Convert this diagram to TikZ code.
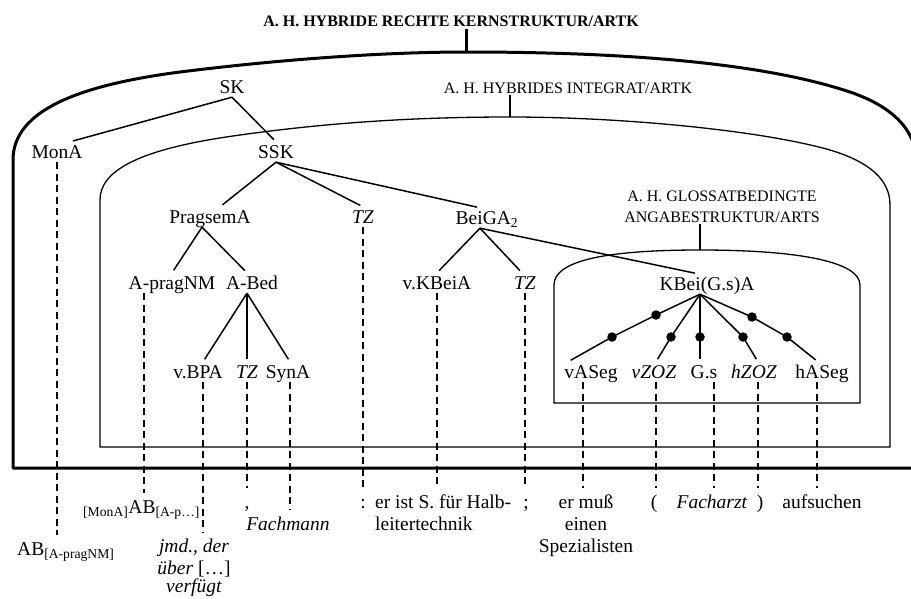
\documentclass[tikz,border=0pt]{standalone}
\usepackage{fontspec}
\setmainfont{Liberation Serif}
\usetikzlibrary{calc}
\begin{document}
\begin{tikzpicture}[x=1pt,y=-1pt,
  nd/.style={inner xsep=0pt, inner ysep=2pt, text height=14pt, text depth=2pt, font=\fontsize{19.5}{22}\selectfont},
  btm/.style={anchor=base, inner xsep=0pt, inner ysep=6pt, text height=14pt, text depth=4pt, font=\fontsize{19.5}{22}\selectfont},
  caplbl/.style={inner sep=1pt, font=\fontsize{16}{21}\selectfont},
  titlelbl/.style={inner sep=2pt, font=\fontsize{16}{19}\selectfont\bfseries},
  tedge/.style={line width=1.5pt, shorten >=3pt},
  dsh/.style={line width=1.4pt, dash pattern=on 7pt off 4.5pt},
  thickshape/.style={line width=3pt, line join=round},
  thinshape/.style={line width=1.3pt},
  blob/.style={circle, fill=black, inner sep=0pt, minimum size=9.5pt}]
\useasboundingbox (0,0) rectangle (911,598);

% ---------- enclosing shapes ----------
\coordinate (otop) at (466,52);
\draw[thickshape] (918,468) -- (13,468) -- (13,160)
  .. controls (13,110) and (80,85) .. (180,72)
  .. controls (300,57) and (400,52) .. (otop)
  .. controls (620,52) and (760,62) .. (850,92)
  .. controls (885,104) and (917,125) .. (917,165) -- cycle;

\coordinate (itop) at (510,117);
\draw[thinshape] (100,447) -- (100,200)
  .. controls (100,172) and (135,150) .. (233,136)
  .. controls (330,122) and (420,117) .. (itop)
  .. controls (620,117) and (760,130) .. (830,150)
  .. controls (870,162) and (890,180) .. (890,205) -- (890,447) -- cycle;

\coordinate (gtop) at (700,250);
\draw[thinshape] (554,403) -- (554,285)
  .. controls (554,262) and (600,250) .. (gtop)
  .. controls (800,250) and (860,262) .. (860,285) -- (860,403) -- cycle;

% ---------- shape labels ----------
\node[titlelbl] (title) at (451,21) {A. H. HYBRIDE RECHTE KERNSTRUKTUR/ARTK};
\draw[line width=3pt] (otop) -- (otop |- title.south);
\node[caplbl] (lbl2) at (568,88) {A. H. HYBRIDES INTEGRAT/ARTK};
\draw[thinshape] (itop) -- (itop |- lbl2.south);
\node[caplbl, align=center] (lbl3) at (722,207) {A. H. GLOSSATBEDINGTE\\ANGABESTRUKTUR/ARTS};
\draw[thinshape] (gtop) -- (gtop |- lbl3.south);

% ---------- tree nodes ----------
\node[nd] (SK) at (232,87) {SK};
\node[nd] (MonA) at (57,152) {MonA};
\node[nd] (SSK) at (276,152) {SSK};
\node[nd] (PragsemA) at (210,217) {PragsemA};
\node[nd] (TZa) at (363,217) {\textit{TZ}};
\node[nd] (BeiGA) at (487,218) {BeiGA\textsubscript{2}};
\node[nd] (ApragNM) at (172,283) {A-pragNM};
\node[nd] (ABed) at (252,283) {A-Bed};
\node[nd] (vKBeiA) at (437,283) {v.KBeiA};
\node[nd] (TZb) at (525,283) {\textit{TZ}};
\node[nd] (KBei) at (707,284) {KBei(G.s)A};
\node[nd] (vBPA) at (198,372) {v.BPA};
\node[nd] (TZc) at (247,372) {\textit{TZ}};
\node[nd] (SynA) at (288,372) {SynA};
\node[nd] (vASeg) at (591,372) {vASeg};
\node[nd] (vZOZ) at (654,372) {\textit{vZOZ}};
\node[nd] (Gs) at (704,372) {G.s};
\node[nd] (hZOZ) at (754,372) {\textit{hZOZ}};
\node[nd] (hASeg) at (822,372) {hASeg};

% ---------- tree edges ----------
\draw[tedge] (SK.south) -- ($(MonA.north)+(13,0)$);
\draw[tedge] (SK.south) -- (SSK.north);
\draw[tedge] (SSK.south) -- ($(PragsemA.north)+(10,0)$);
\draw[tedge] (SSK.south) -- (TZa.north);
\draw[tedge] (SSK.south) -- ($(BeiGA.north)+(-7,0)$);
\draw[tedge] ($(PragsemA.south)+(-8,0)$) -- (ApragNM.north);
\draw[tedge] ($(PragsemA.south)+(-8,0)$) -- ($(ABed.north)+(-5,0)$);
\draw[tedge] ($(BeiGA.south)+(-7,0)$) -- (vKBeiA.north);
\draw[tedge] ($(BeiGA.south)+(-7,0)$) -- ($(TZb.north)+(-3,0)$);
\draw[tedge] ($(BeiGA.south)+(-7,0)$) -- ($(KBei.north)+(-9,0)$);
\draw[tedge] ($(ABed.south)+(-5,0)$) -- ($(vBPA.north)+(5,0)$);
\draw[tedge] ($(ABed.south)+(-5,0)$) -- (TZc.north);
\draw[tedge] ($(ABed.south)+(-5,0)$) -- ($(SynA.north)+(2,0)$);

% dotted branches of KBei(G.s)A
\node[blob] (dA1) at (656,315) {};
\node[blob] (dA2) at (612,337) {};
\node[blob] (dB) at (671,337) {};
\node[blob] (dC) at (700,337) {};
\node[blob] (dD) at (743,337) {};
\node[blob] (dE1) at (752,317) {};
\node[blob] (dE2) at (787,337) {};
\coordinate (kb) at ($(KBei.south)+(-7,0)$);
\draw[tedge] (kb) -- (dA1.center) -- (dA2.center) -- ($(vASeg.north)+(-23,0)$);
\draw[tedge] (kb) -- (dB.center) -- ($(vZOZ.north)+(2,0)$);
\draw[tedge] (kb) -- (dC.center) -- ($(Gs.north)+(-4,0)$);
\draw[tedge] (kb) -- (dD.center) -- ($(hZOZ.north)+(4,0)$);
\draw[tedge] (kb) -- (dE1.center) -- (dE2.center) -- ($(hASeg.north)+(-4,0)$);

% ---------- bottom texts ----------
\node[btm, anchor=base west] (ABa) at (17,555) {AB\textsubscript{[A-pragNM]}};
\node[btm, anchor=base west] (ABb) at (83,513) {\textsubscript{[MonA]}AB\textsubscript{[A-p…]}};
\node[btm] (jmd) at (194,552) {\textit{jmd., der}};
\node[btm] (jmdb) at (194,574) {\textit{über} […]};
\node[btm] (jmdc) at (194,592) {\textit{verfügt}};
\node[btm] (comma) at (247,508) {,};
\node[btm] (Fachmann) at (288,530) {\textit{Fachmann}};
\node[btm] (colon) at (363,508) {:};
\node[btm, anchor=base west] (erist) at (375,508) {er ist S. für Halb-};
\node[btm, anchor=base west] (eristb) at (375,530) {leitertechnik};
\node[btm] (semi) at (526,508) {;};
\node[btm] (ermuss) at (586,508) {er muß};
\node[btm] (einen) at (586,530) {einen};
\node[btm] (spez) at (586,552) {Spezialisten};
\node[btm] (lpar) at (654,508) {(};
\node[btm] (Facharzt) at (712,508) {\textit{Facharzt}};
\node[btm] (rpar) at (760,508) {)};
\node[btm] (aufsuchen) at (822,508) {aufsuchen};

% ---------- dashed projection lines ----------
\coordinate (pAp) at ($(ApragNM.south)+(-28,0)$);
\coordinate (pBPA) at ($(vBPA.south)+(5,0)$);
\coordinate (pSyn) at ($(SynA.south)+(2,0)$);
\coordinate (pvA) at ($(vASeg.south)+(-8,0)$);
\coordinate (pvZ) at ($(vZOZ.south)+(2,0)$);
\coordinate (pGs) at ($(Gs.south)+(10,0)$);
\coordinate (phZ) at ($(hZOZ.south)+(4,0)$);
\coordinate (phA) at ($(hASeg.south)+(-5,0)$);
\draw[dsh] (MonA.south) -- (MonA.south |- ABa.north);
\draw[dsh] (pAp) -- (pAp |- ABb.north);
\draw[dsh] (pBPA) -- (pBPA |- jmd.north);
\draw[dsh] (TZc.south) -- (TZc.south |- comma.north);
\draw[dsh] (pSyn) -- (pSyn |- Fachmann.north);
\draw[dsh] (TZa.south) -- (TZa.south |- colon.north);
\draw[dsh] (vKBeiA.south) -- (vKBeiA.south |- erist.north);
\draw[dsh] (TZb.south) -- (TZb.south |- semi.north);
\draw[dsh] (pvA) -- (pvA |- ermuss.north);
\draw[dsh] (pvZ) -- (pvZ |- lpar.north);
\draw[dsh] (pGs) -- (pGs |- Facharzt.north);
\draw[dsh] (phZ) -- (phZ |- rpar.north);
\draw[dsh] (phA) -- (phA |- aufsuchen.north);
\end{tikzpicture}
\end{document}
